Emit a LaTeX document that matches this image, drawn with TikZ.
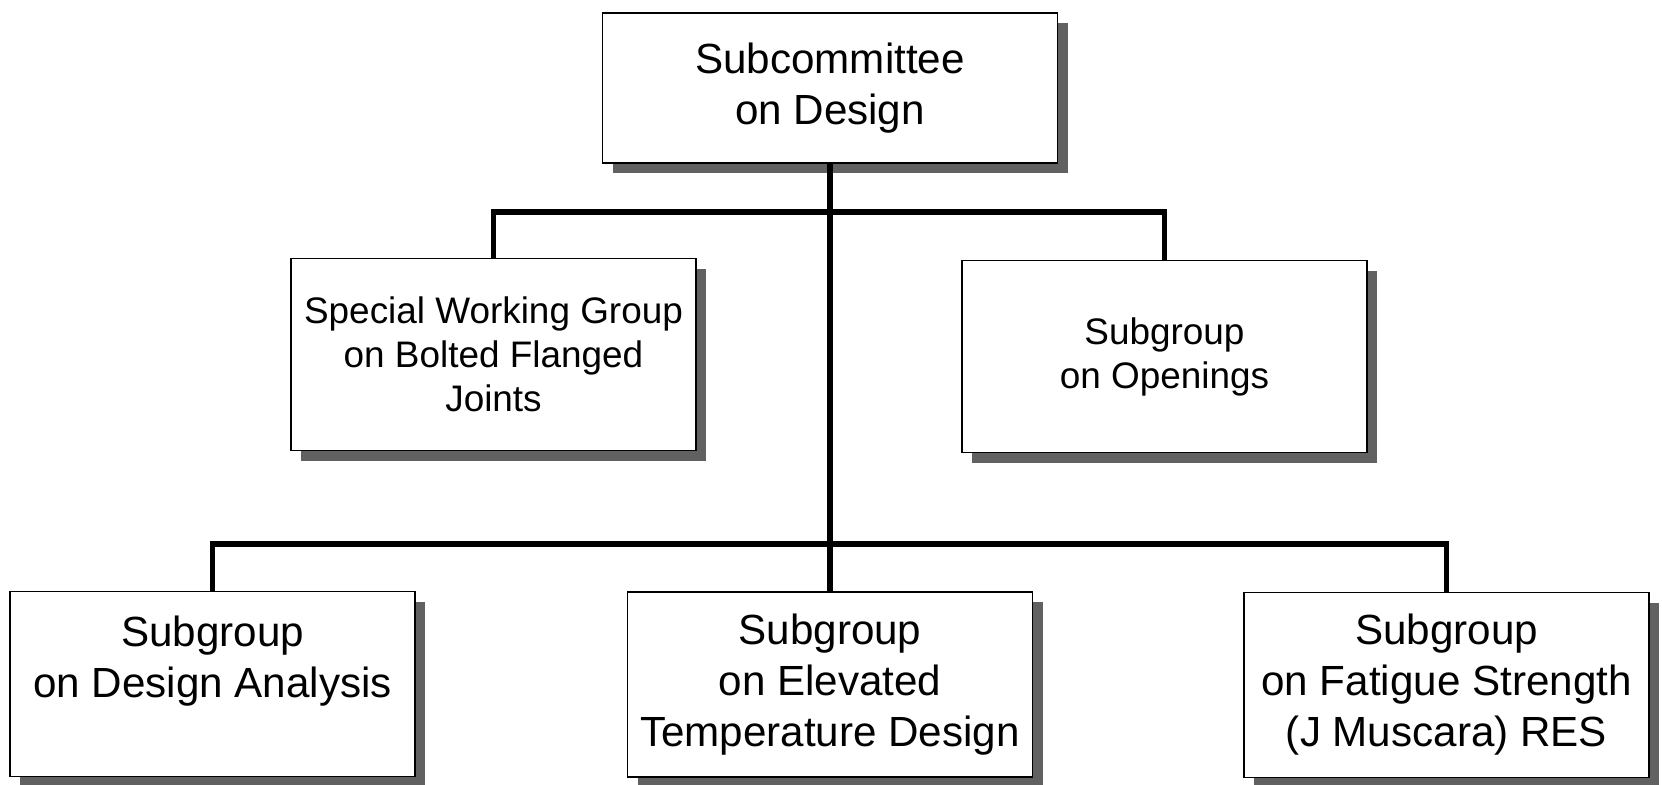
\documentclass[tikz,border=0pt]{standalone}
\usepackage{fontspec}
\setmainfont{Liberation Sans}
\usetikzlibrary{positioning,shadows}
\tikzset{every node/.append style={transform shape=false}}
\tikzset{unit/.style={draw, line width=1.1pt, fill=white, align=center, inner sep=0pt,
    minimum width=8.1cm, minimum height=3.84cm,
    drop shadow={shadow xshift=0.2cm, shadow yshift=-0.2cm, opacity=1, fill=black!62}}}
\tikzset{bigtext/.style={font=\fontsize{24}{29}\selectfont}}
\tikzset{midtext/.style={font=\fontsize{21}{25}\selectfont}}
\tikzset{link/.style={line width=3.2pt}}

\begin{document}
\begin{tikzpicture}
  \useasboundingbox (0,0) rectangle (33.24,-15.7);
  % committee and its groups
  \node[unit, bigtext, minimum width=9.1cm, minimum height=3cm] (top) at (16.6,-1.76) {Subcommittee\\on Design};
  \node[unit, midtext] (bolted) at (9.87,-7.09) {Special Working Group\\on Bolted Flanged\\Joints};
  \node[unit, midtext] (open) at (23.29,-7.13) {Subgroup\\on Openings};
  \node[unit, bigtext, minimum height=3.7cm] (anal) at (4.25,-13.68) {Subgroup\\on Design Analysis\\[-7pt]\strut};
  \node[unit, bigtext, minimum height=3.7cm] (elev) at (16.6,-13.69) {Subgroup\\on Elevated\\Temperature Design};
  \node[unit, bigtext, minimum height=3.7cm] (fat) at (28.93,-13.7) {Subgroup\\on Fatigue Strength\\(J Muscara) RES};
  % branch lines
  \coordinate (hi) at (16.6,-4.24);
  \coordinate (lo) at (16.6,-10.88);
  \draw[link] (top.south) -- (elev.north);
  \draw[link] (bolted.north) |- (hi) -| (open.north);
  \draw[link] (anal.north) |- (lo) -| (fat.north);
\end{tikzpicture}
\end{document}
